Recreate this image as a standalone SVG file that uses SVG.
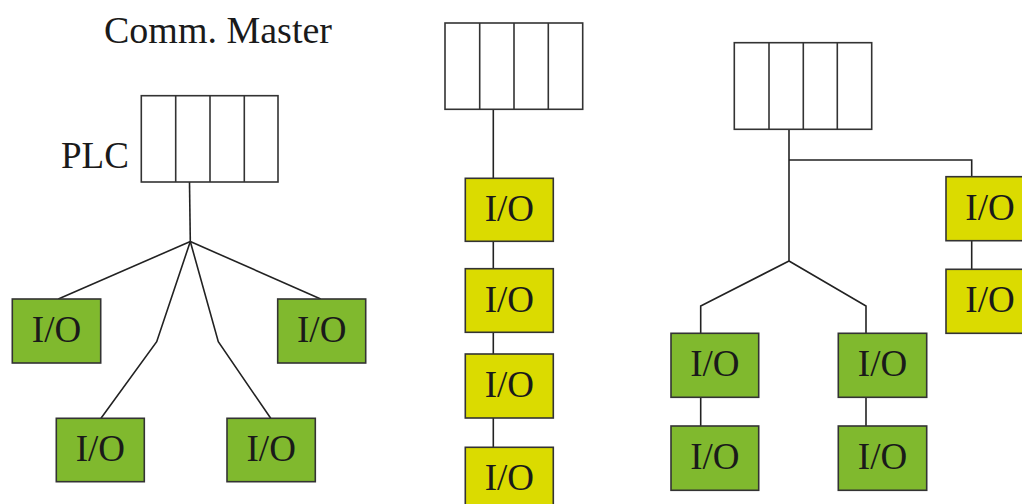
<svg xmlns="http://www.w3.org/2000/svg" width="1022" height="504" viewBox="0 0 1022 504">
<style>
.plc{fill:#fff;stroke:#333;stroke-width:1.6}
.div{stroke:#333;stroke-width:1.6}
.g{fill:#80B92E;stroke:#333;stroke-width:1.6}
.y{fill:#DBDB00;stroke:#333;stroke-width:1.6}
.t{font-family:"Liberation Serif","Times New Roman",serif;font-size:37px;fill:#1a1a1a}
.io{font-family:"Liberation Serif","Times New Roman",serif;font-size:37px;fill:#1a1a1a;text-anchor:middle}
.c{fill:none;stroke:#222;stroke-width:1.6}
</style>
<text class="t" x="104" y="43" style="font-size:38px">Comm. Master</text>
<text class="t" x="61" y="168">PLC</text>
<g id="connectors">
<path class="c" d="M189.5 182 L190.3 241.5"/>
<path class="c" d="M190.3 241.5 L58.3 299"/>
<path class="c" d="M190.3 241.5 L320.7 299"/>
<path class="c" d="M190.3 241.5 L156.7 341.7 L101 418.3"/>
<path class="c" d="M190.3 241.5 L218.3 341.7 L270.7 418.3"/>
<path class="c" d="M493.3 109 L493.3 178.3"/>
<path class="c" d="M493.3 241.3 L493.3 268.7"/>
<path class="c" d="M493.3 332.3 L493.3 354"/>
<path class="c" d="M493.3 418 L493.3 447.3"/>
<path class="c" d="M789 129.3 L789 261"/>
<path class="c" d="M789 160 L971.7 160 L971.7 176.7"/>
<path class="c" d="M971.7 240.7 L971.7 269.3"/>
<path class="c" d="M789 261 L700.7 306 L700.7 333.3"/>
<path class="c" d="M789 261 L866 306 L866 333.3"/>
<path class="c" d="M700.7 397.3 L700.7 426"/>
<path class="c" d="M866 397.3 L866 426"/>
</g>
<g id="plc1">
<rect class="plc" x="141.3" y="95.7" width="136.7" height="86.3"/>
<path class="div" d="M175.7 95.7V182M210 95.7V182M244.3 95.7V182"/>
</g>
<g id="plc2">
<rect class="plc" x="445" y="23" width="137.7" height="86.3"/>
<path class="div" d="M479.7 23V109.3M514 23V109.3M548.3 23V109.3"/>
</g>
<g id="plc3">
<rect class="plc" x="734.3" y="42.7" width="137.4" height="86.6"/>
<path class="div" d="M769 42.7V129.3M803.3 42.7V129.3M837.3 42.7V129.3"/>
</g>
<g id="io1"><rect class="g" x="12.3" y="299" width="88.4" height="64"/><text class="io" x="56.5" y="342">I/O</text></g>
<g id="io2"><rect class="g" x="277.7" y="299" width="88" height="64"/><text class="io" x="321.7" y="342">I/O</text></g>
<g id="io3"><rect class="g" x="56.3" y="418.3" width="88" height="63.4"/><text class="io" x="100.3" y="461">I/O</text></g>
<g id="io4"><rect class="g" x="227" y="418.3" width="88.3" height="63.4"/><text class="io" x="271.2" y="461">I/O</text></g>
<g id="io5"><rect class="y" x="465.3" y="178.3" width="88" height="63"/><text class="io" x="509.3" y="221">I/O</text></g>
<g id="io6"><rect class="y" x="465.3" y="268.7" width="88" height="63.6"/><text class="io" x="509.3" y="311.5">I/O</text></g>
<g id="io7"><rect class="y" x="465.3" y="354" width="88" height="64"/><text class="io" x="509.3" y="397">I/O</text></g>
<g id="io8"><rect class="y" x="465.3" y="447.3" width="88" height="64"/><text class="io" x="509.3" y="490">I/O</text></g>
<g id="io9"><rect class="y" x="946" y="176.7" width="88" height="64"/><text class="io" x="990" y="219.5">I/O</text></g>
<g id="io10"><rect class="y" x="946" y="269.3" width="88" height="64"/><text class="io" x="990" y="312">I/O</text></g>
<g id="io11"><rect class="g" x="671" y="333.3" width="87.7" height="64"/><text class="io" x="714.8" y="376">I/O</text></g>
<g id="io12"><rect class="g" x="671" y="426" width="87.7" height="64.3"/><text class="io" x="714.8" y="469">I/O</text></g>
<g id="io13"><rect class="g" x="838.3" y="333.3" width="88.4" height="64"/><text class="io" x="882.5" y="376">I/O</text></g>
<g id="io14"><rect class="g" x="838.3" y="426" width="88.4" height="64.3"/><text class="io" x="882.5" y="469">I/O</text></g>
</svg>
